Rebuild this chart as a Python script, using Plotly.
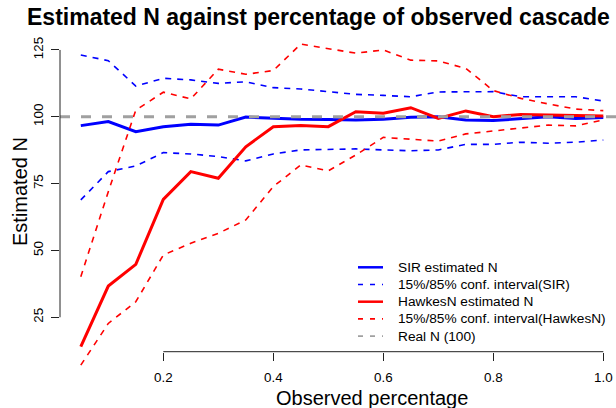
import plotly.graph_objects as go

# ---------------- data ----------------
observed = [0.05, 0.10, 0.15, 0.20, 0.25, 0.30, 0.35, 0.40, 0.45, 0.50,
            0.55, 0.60, 0.65, 0.70, 0.75, 0.80, 0.85, 0.90, 0.95, 1.00]
sir_est = [96.7, 98.2, 94.4, 96.3, 97.2, 96.9, 99.9, 99.4, 99.1, 99.0,
           98.8, 99.1, 99.8, 100.0, 98.8, 98.6, 99.4, 100.0, 99.4, 99.7]
sir_hi = [123.1, 121.0, 111.5, 114.4, 113.8, 112.5, 113.1, 110.9, 110.4, 109.4,
          108.4, 108.0, 107.5, 109.3, 109.4, 109.4, 107.5, 107.5, 107.5, 105.9]
sir_lo = [68.9, 79.5, 81.6, 86.6, 86.1, 85.1, 83.5, 86.1, 87.6, 87.7,
          88.0, 87.6, 87.3, 87.6, 89.7, 89.7, 90.5, 90.1, 90.5, 91.3]
hawkes_est = [14.0, 36.7, 44.8, 69.1, 79.5, 77.0, 88.8, 96.3, 96.7, 96.3,
              101.9, 101.3, 103.4, 99.4, 102.2, 100.0, 100.9, 100.7, 100.4, 100.3]
hawkes_hi = [40.2, 72.0, 102.5, 109.2, 106.7, 117.8, 115.9, 117.3, 127.2, 125.6,
             123.8, 125.0, 121.2, 120.9, 118.1, 109.8, 106.9, 104.8, 102.9, 102.3]
hawkes_lo = [7.1, 22.7, 30.8, 48.3, 52.7, 56.4, 61.4, 73.9, 82.0, 79.8,
             85.7, 92.3, 91.6, 90.9, 93.6, 94.7, 95.9, 96.9, 96.6, 98.8]
real_n = 100

x_ticks = [0.2, 0.4, 0.6, 0.8, 1.0]
x_tick_labels = ["0.2", "0.4", "0.6", "0.8", "1.0"]
y_ticks = [25, 50, 75, 100, 125]
y_tick_labels = ["25", "50", "75", "100", "125"]

legend_labels = ["SIR estimated N", "15%/85% conf. interval(SIR)",
                 "HawkesN estimated N", "15%/85% conf. interval(HawkesN)",
                 "Real N (100)"]

title = "Estimated N against percentage of observed cascade"
x_title = "Observed percentage"
y_title = "Estimated N"

# ---------------- styling / layout ----------------
W, H = 616, 408
ML, MR, MT, MB = 60, 0, 40, 36
PW, PH = W - ML - MR, H - MT - MB
FONT = "Liberation Sans, Arial, Helvetica, sans-serif"
BLUE, RED, GREY = "#0000FF", "#FF0000", "#A0A0A0"

X_RANGE = [0.01218, 1.02309]
Y_RANGE = [4.53, 128.73]


def px_x(p):
    return (p - ML) / PW


def px_y(p):
    return (H - MB - p) / PH


fig = go.Figure()

solid_w, ci_w = 3, 1.6
ci_dash = "6px,6px"

fig.add_trace(go.Scatter(x=observed, y=sir_est, mode="lines",
                         line=dict(color=BLUE, width=solid_w), showlegend=False))
fig.add_trace(go.Scatter(x=observed, y=sir_hi, mode="lines",
                         line=dict(color=BLUE, width=ci_w, dash=ci_dash), showlegend=False))
fig.add_trace(go.Scatter(x=observed, y=sir_lo, mode="lines",
                         line=dict(color=BLUE, width=ci_w, dash=ci_dash), showlegend=False))
fig.add_trace(go.Scatter(x=observed, y=hawkes_est, mode="lines",
                         line=dict(color=RED, width=solid_w), showlegend=False))
fig.add_trace(go.Scatter(x=observed, y=hawkes_hi, mode="lines",
                         line=dict(color=RED, width=ci_w, dash=ci_dash), showlegend=False))
fig.add_trace(go.Scatter(x=observed, y=hawkes_lo, mode="lines",
                         line=dict(color=RED, width=ci_w, dash=ci_dash), showlegend=False))
# horizontal reference line (abline h = 100) across the plot region
fig.add_trace(go.Scatter(x=[X_RANGE[0], X_RANGE[1]], y=[real_n, real_n], mode="lines",
                         line=dict(color=GREY, width=3, dash="10px,11px"), showlegend=False))

AXIS_COLOR = "#222222"
x_axis_pos = px_y(351.7)

shapes = [
    # R-style y axis line spanning the extreme ticks only
    dict(type="line", xref="paper", yref="y", x0=0, x1=0, y0=y_ticks[0], y1=y_ticks[-1],
         line=dict(color=AXIS_COLOR, width=1)),
    # R-style x axis line spanning the extreme ticks only
    dict(type="line", xref="x", yref="paper", x0=x_ticks[0], x1=x_ticks[-1],
         y0=x_axis_pos, y1=x_axis_pos, line=dict(color=AXIS_COLOR, width=1)),
]

annotations = [
    dict(text="<b>%s</b>" % title, xref="paper", yref="paper",
         x=px_x(25), y=px_y(17), xanchor="left", yanchor="middle", showarrow=False,
         font=dict(family=FONT, size=23, color="black")),
    dict(text=x_title, xref="paper", yref="paper", x=px_x(371.5), y=px_y(398),
         xanchor="center", yanchor="middle", showarrow=False,
         font=dict(family=FONT, size=20, color="black")),
    dict(text=y_title, xref="paper", yref="paper", x=px_x(20), y=px_y(192),
         xanchor="center", yanchor="middle", textangle=-90, showarrow=False,
         font=dict(family=FONT, size=20, color="black")),
]

# manual legend (R-style, no box)
leg_styles = [(BLUE, None, 2.5), (BLUE, "5px,7px", 1.6), (RED, None, 2.5),
              (RED, "5px,7px", 1.6), (GREY, "5px,7px", 1.6)]
for i, (lab, (col, dash, w)) in enumerate(zip(legend_labels, leg_styles)):
    yc = 267.3 + i * 17.2
    ln = dict(color=col, width=w)
    if dash:
        ln["dash"] = dash
    shapes.append(dict(type="line", xref="paper", yref="paper",
                       x0=px_x(358), x1=px_x(383), y0=px_y(yc), y1=px_y(yc), line=ln))
    annotations.append(dict(text=lab, xref="paper", yref="paper", x=px_x(396), y=px_y(yc),
                            xanchor="left", yanchor="middle", showarrow=False,
                            font=dict(family=FONT, size=13.7, color="black")))

fig.update_layout(
    width=W, height=H,
    margin=dict(l=ML, r=MR, t=MT, b=MB, autoexpand=False),
    paper_bgcolor="white", plot_bgcolor="white",
    showlegend=False,
    font=dict(family=FONT, size=13.4, color="black"),
    xaxis=dict(range=X_RANGE, anchor="free", position=x_axis_pos,
               tickvals=x_ticks, ticktext=x_tick_labels,
               ticks="outside", ticklen=8, tickwidth=1, tickcolor=AXIS_COLOR,
               ticklabelstandoff=5,
               showline=False, showgrid=False, zeroline=False,
               tickfont=dict(family=FONT, size=13.4, color="black"),
               automargin=False),
    yaxis=dict(range=Y_RANGE, tickvals=y_ticks, ticktext=y_tick_labels,
               ticks="outside", ticklen=8, tickwidth=1, tickcolor=AXIS_COLOR,
               tickangle=-90, ticklabelstandoff=3,
               showline=False, showgrid=False, zeroline=False,
               tickfont=dict(family=FONT, size=13.4, color="black"),
               automargin=False),
    shapes=shapes,
    annotations=annotations,
)

fig.write_html("out.html")
